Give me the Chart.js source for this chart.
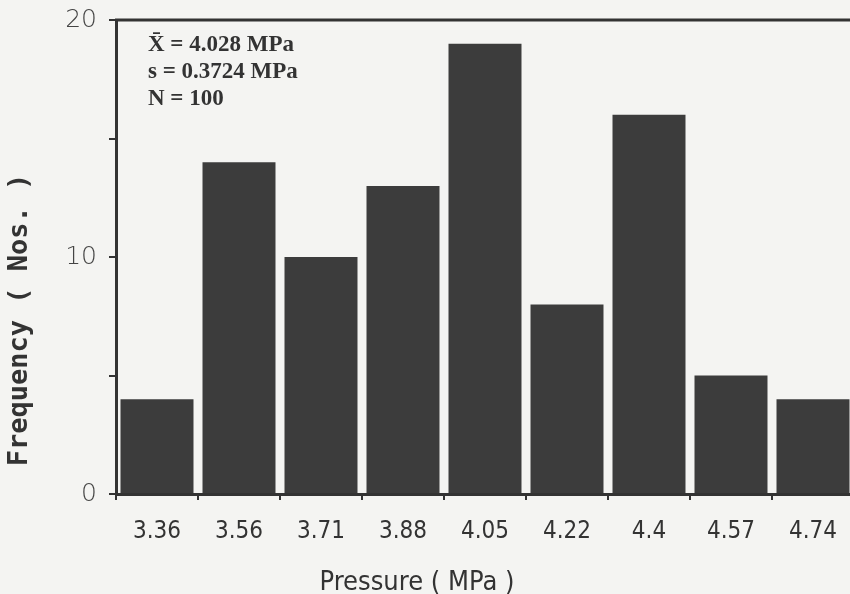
<!DOCTYPE html>
<html>
<head>
<meta charset="utf-8">
<title>Pressure frequency</title>
<script src="https://cdn.jsdelivr.net/npm/chart.js@4.4.1/dist/chart.umd.min.js"></script>
<style>
  html, body { margin: 0; padding: 0; background: #f4f4f2; }
  .wrap { width: 850px; height: 594px; overflow: hidden; position: relative; }
  canvas { display: block; }
</style>
</head>
<body>
<div class="wrap">
  <canvas id="chart" width="856" height="594"></canvas>
</div>
<script>
const categories = ['3.36', '3.56', '3.71', '3.88', '4.05', '4.22', '4.4', '4.57', '4.74'];
const frequency = [4, 14, 10, 13, 19, 8, 16, 5, 4];
const yLabelled = [0, 10, 20];
const statsLines = ['X\u0304 = 4.028 MPa', 's = 0.3724 MPa', 'N = 100'];
const xTitle = 'Pressure ( MPa )';
const yTitle = 'Frequency ( Nos. )';

const ink = '#333333';
const condensed = '"DejaVu Sans Condensed", "Liberation Sans Narrow"';

// top frame line, stats text and the two axis titles (they sit off-centre in the original)
const extras = {
  id: 'extras',
  afterDraw(chart) {
    const { ctx, chartArea } = chart;
    ctx.save();
    ctx.strokeStyle = ink;
    ctx.lineWidth = 3;
    ctx.beginPath();
    ctx.moveTo(chartArea.left - 1, chartArea.top);
    ctx.lineTo(chart.width, chartArea.top);
    ctx.stroke();

    ctx.fillStyle = ink;
    ctx.font = 'bold 23px "Liberation Serif"';
    ctx.textBaseline = 'alphabetic';
    ctx.textAlign = 'left';
    statsLines.forEach((line, i) => {
      ctx.fillText(line, chartArea.left + 32, chartArea.top + 31 + i * 27);
    });

    ctx.textAlign = 'center';
    ctx.textBaseline = 'middle';
    ctx.font = '27px ' + condensed;
    ctx.fillText(xTitle, 417, 583);

    ctx.translate(20, 320);
    ctx.rotate(-Math.PI / 2);
    ctx.font = 'bold 27px "DejaVu Sans Mono"';
    ctx.fillText(yTitle, 0, 0);
    ctx.restore();
  }
};

new Chart(document.getElementById('chart').getContext('2d'), {
  type: 'bar',
  data: {
    labels: categories,
    datasets: [
      {
        data: frequency,
        backgroundColor: '#3c3c3c',
        borderWidth: 0,
        barPercentage: 0.89,
        categoryPercentage: 1.0,
      },
    ],
  },
  options: {
    responsive: false,
    animation: false,
    layout: { padding: { top: 20, right: 2, left: 0, bottom: 0 } },
    plugins: { legend: { display: false }, tooltip: { enabled: false } },
    scales: {
      x: {
        grid: { display: true, drawOnChartArea: false, drawTicks: true, tickLength: 6, color: ink, lineWidth: 2, offset: true },
        border: { display: true, color: ink, width: 3 },
        ticks: {
          color: ink,
          font: { family: condensed, size: 24 },
          padding: 17,
          maxRotation: 0,
          autoSkip: false,
        },
        afterFit(scale) { scale.height = 100; },
      },
      y: {
        min: 0,
        max: 20,
        ticks: {
          stepSize: 5,
          color: '#444',
          font: { family: '"DejaVu Sans"', weight: 200, size: 25 },
          padding: 12,
          callback: (v) => (yLabelled.includes(v) ? v : ''),
        },
        grid: { display: true, drawOnChartArea: false, drawTicks: true, tickLength: 7, color: ink, lineWidth: 2 },
        border: { display: true, color: ink, width: 3 },
        afterFit(scale) {
          scale.width = 116;
          scale.paddingTop = 0;
          scale.paddingBottom = 0;
        },
      },
    },
  },
  plugins: [extras],
});
</script>
</body>
</html>
